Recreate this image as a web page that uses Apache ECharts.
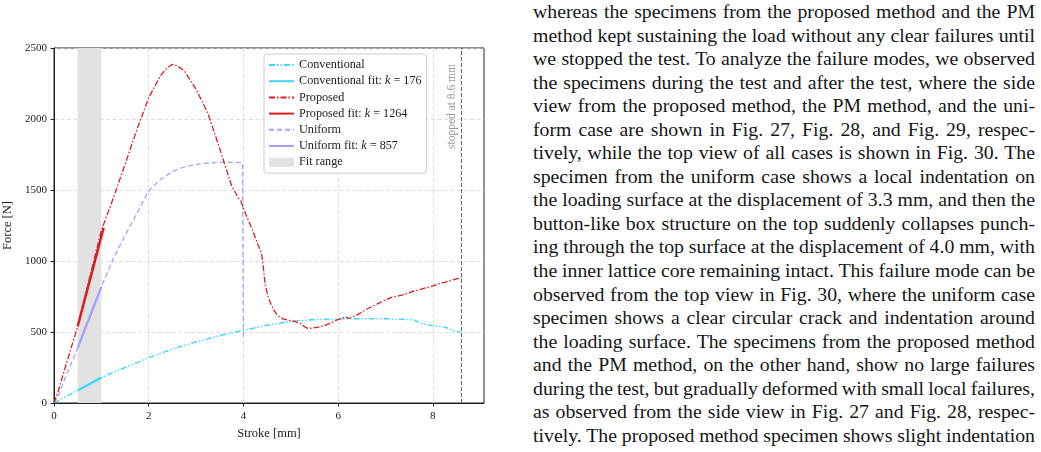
<!DOCTYPE html>
<html>
<head>
<meta charset="utf-8">
<script src="https://cdn.jsdelivr.net/npm/echarts@6/dist/echarts.min.js"></script>
<style>
  html, body { margin: 0; padding: 0; background: #fff; width: 1041px; height: 452px; overflow: hidden; }
  #chart { position: absolute; left: 0; top: 0; width: 520px; height: 452px; }
  #text { position: absolute; left: 533px; top: 0px; width: 502px;
          font-family: 'Liberation Serif', 'Times New Roman', serif; font-size: 19.8px;
          line-height: 23.55px; color: #161616; }
  #text div { white-space: nowrap; }
</style>
</head>
<body>
<div id="chart"></div>
<div id="text"></div>
<script>
// ---- data ----
const convX = [0, 0.1, 0.25, 0.5, 0.75, 1.0, 1.25, 1.5, 1.75, 2.0, 2.5, 3.0, 3.5, 4.0, 4.5, 5.0, 5.5, 6.0, 6.5, 7.0, 7.3, 7.6, 7.75, 7.85, 8.0, 8.2, 8.3, 8.45, 8.6];
const convY = [0, 18, 45, 88, 132, 178, 215, 250, 285, 320, 380, 430, 475, 512, 548, 575, 588, 592, 594, 593, 590, 586, 560, 552, 545, 538, 530, 508, 497];

const propX = [0, 0.1, 0.25, 0.4, 0.5, 0.75, 1.0, 1.25, 1.5, 1.75, 2.0, 2.25, 2.4, 2.5, 2.6, 2.75, 3.0, 3.25, 3.5, 3.75, 3.9, 3.95, 4.0, 4.1, 4.2, 4.3, 4.38, 4.41, 4.46, 4.52, 4.57, 4.65, 4.71, 4.82, 4.92, 5.09, 5.2, 5.3, 5.36, 5.45, 5.55, 5.65, 5.77, 5.9, 5.98, 6.1, 6.15, 6.22, 6.3, 6.4, 6.5, 6.61, 6.75, 6.89, 7.0, 7.14, 7.25, 7.39, 7.5, 7.6, 7.72, 7.84, 7.95, 8.02, 8.16, 8.25, 8.37, 8.48, 8.6];
const propY = [0, 95, 265, 430, 540, 880, 1215, 1440, 1680, 1925, 2150, 2305, 2365, 2385, 2375, 2340, 2210, 2040, 1790, 1530, 1440, 1420, 1370, 1290, 1210, 1120, 1060, 990, 830, 750, 705, 650, 620, 595, 585, 574, 560, 535, 525, 528, 532, 540, 552, 572, 586, 600, 607, 595, 605, 621, 640, 662, 685, 708, 725, 746, 752, 763, 775, 790, 798, 810, 818, 826, 845, 850, 862, 872, 882];

const unifX = [0, 0.1, 0.25, 0.5, 0.75, 1.0, 1.25, 1.5, 1.75, 2.0, 2.25, 2.5, 2.75, 3.0, 3.25, 3.5, 3.75, 3.98, 4.0];
const unifY = [0, 60, 190, 385, 600, 820, 1015, 1180, 1335, 1495, 1575, 1630, 1662, 1680, 1690, 1695, 1695, 1693, 465];

const convFitX = [0.5, 1.0], convFitY = [88, 180];
const propFitX = [0.5, 1.05], propFitY = [540, 1235];
const unifFitX = [0.5, 1.0], unifFitY = [388, 818];

const fitRange = [0.5, 1.0];
const stopX = 8.6;

const seriesNames = ['Conventional', 'Conventional fit: k = 176', 'Proposed', 'Proposed fit: k = 1264', 'Uniform', 'Uniform fit: k = 857', 'Fit range'];
const xTicks = [0, 2, 4, 6, 8];

const bodyLines = [
  'whereas the specimens from the proposed method and the PM',
  'method kept sustaining the load without any clear failures until',
  'we stopped the test. To analyze the failure modes, we observed',
  'the specimens during the test and after the test, where the side',
  'view from the proposed method, the PM method, and the uni-',
  'form case are shown in Fig. 27, Fig. 28, and Fig. 29, respec-',
  'tively, while the top view of all cases is shown in Fig. 30. The',
  'specimen from the uniform case shows a local indentation on',
  'the loading surface at the displacement of 3.3 mm, and then the',
  'button-like box structure on the top suddenly collapses punch-',
  'ing through the top surface at the displacement of 4.0 mm, with',
  'the inner lattice core remaining intact. This failure mode can be',
  'observed from the top view in Fig. 30, where the uniform case',
  'specimen shows a clear circular crack and indentation around',
  'the loading surface. The specimens from the proposed method',
  'and the PM method, on the other hand, show no large failures',
  'during the test, but gradually deformed with small local failures,',
  'as observed from the side view in Fig. 27 and Fig. 28, respec-',
  'tively. The proposed method specimen shows slight indentation'
];

// ---- body text (justified) ----
const textBox = document.getElementById('text');
const TARGET_W = 502;
bodyLines.forEach(function (line) {
  const d = document.createElement('div');
  const s = document.createElement('span');
  s.textContent = line;
  d.appendChild(s);
  textBox.appendChild(d);
  const w = s.getBoundingClientRect().width;
  const n = (line.match(/ /g) || []).length;
  if (n > 0) s.style.wordSpacing = ((TARGET_W - w) / n) + 'px';
});

// ---- chart ----
const zip = (xs, ys) => xs.map((x, i) => [x, ys[i]]);
const FONT = 'Liberation Serif, Times New Roman, serif';
const C_CONV = '#3fd6ff', C_PROP = '#d81e1e', C_UNIF = '#a3a3ff', C_FIT = '#e2e2e2';
const lineLegend = name => ({ name: name, itemStyle: { opacity: 0 } });

const chart = echarts.init(document.getElementById('chart'), null, { renderer: 'canvas' });
chart.setOption({
  animation: false,
  textStyle: { fontFamily: FONT },
  grid: { left: 54, top: 48, width: 430, height: 355, show: true, borderColor: '#222', borderWidth: 1,
          backgroundColor: 'transparent', containLabel: false, outerBoundsMode: 'none' },
  xAxis: {
    type: 'value', min: 0, max: 9.08, interval: 2,
    name: 'Stroke [mm]', nameLocation: 'middle', nameGap: 20,
    nameTextStyle: { fontFamily: FONT, fontSize: 12.5, color: '#222' },
    axisLine: { show: true, lineStyle: { color: '#222', width: 1 } },
    axisTick: { show: true, inside: false, length: 3.5, lineStyle: { color: '#222' }, customValues: xTicks },
    axisLabel: { margin: 8, fontFamily: FONT, fontSize: 11, color: '#222', customValues: xTicks,
                 formatter: v => String(v) },
    splitLine: { show: true, lineStyle: { color: '#d4d4d4', type: [4, 2.5], width: 0.8 } }
  },
  yAxis: {
    type: 'value', min: 0, max: 2500, interval: 500,
    name: 'Force [N]', nameLocation: 'middle', nameGap: 35,
    nameTextStyle: { fontFamily: FONT, fontSize: 12.5, color: '#222' },
    axisLine: { show: true, lineStyle: { color: '#222', width: 1 } },
    axisTick: { show: true, inside: false, length: 3.5, lineStyle: { color: '#222' } },
    axisLabel: { margin: 7, fontFamily: FONT, fontSize: 11, color: '#222', formatter: v => String(v) },
    splitLine: { show: true, lineStyle: { color: '#d4d4d4', type: [4, 2.5], width: 0.8 } }
  },
  legend: {
    orient: 'vertical', left: 264, top: 54,
    padding: [4, 5, 4, 4], itemGap: 2.2, itemWidth: 25, itemHeight: 9,
    backgroundColor: 'rgba(255,255,255,0.85)', borderColor: '#cccccc', borderWidth: 1, borderRadius: 3,
    textStyle: { fontFamily: FONT, fontSize: 12.2, color: '#222', lineHeight: 14,
      rich: { i: { fontFamily: FONT, fontSize: 12.2, fontStyle: 'italic', color: '#222' } } },
    formatter: function (name) { return name.replace(/k =/, '{i|k} ='); },
    data: [
      lineLegend(seriesNames[0]), lineLegend(seriesNames[1]), lineLegend(seriesNames[2]),
      lineLegend(seriesNames[3]), lineLegend(seriesNames[4]), lineLegend(seriesNames[5]),
      { name: seriesNames[6], icon: 'rect', itemStyle: { color: C_FIT, opacity: 1 } }
    ]
  },
  series: [
    { name: seriesNames[0], type: 'line', data: zip(convX, convY), showSymbol: false, symbol: 'none', z: 3,
      color: C_CONV, lineStyle: { color: C_CONV, width: 1.4, type: [6, 2, 1.5, 2, 1.5, 2] } },
    { name: seriesNames[1], type: 'line', data: zip(convFitX, convFitY), showSymbol: false, symbol: 'none', z: 6,
      color: C_CONV, lineStyle: { color: C_CONV, width: 2.4 } },
    { name: seriesNames[2], type: 'line', data: zip(propX, propY), showSymbol: false, symbol: 'none', z: 4,
      color: C_PROP, lineStyle: { color: C_PROP, width: 1.3, type: [6, 2, 1.5, 2] },
      markLine: { silent: true, symbol: ['none', 'none'], animation: false,
        lineStyle: { color: '#555', width: 0.9, type: [4, 2] },
        label: { show: true, position: 'insideEndTop', formatter: 'stopped at 8.6 mm', fontFamily: FONT, fontSize: 11.5, color: '#999', distance: [16, 3] },
        data: [{ xAxis: stopX }] } },
    { name: seriesNames[3], type: 'line', data: zip(propFitX, propFitY), showSymbol: false, symbol: 'none', z: 7,
      color: C_PROP, lineStyle: { color: C_PROP, width: 2.4 } },
    { name: seriesNames[4], type: 'line', data: zip(unifX, unifY), showSymbol: false, symbol: 'none', z: 3,
      color: C_UNIF, lineStyle: { color: C_UNIF, width: 1.3, type: [5, 3] } },
    { name: seriesNames[5], type: 'line', data: zip(unifFitX, unifFitY), showSymbol: false, symbol: 'none', z: 6,
      color: C_UNIF, lineStyle: { color: C_UNIF, width: 2.4 } },
    { name: seriesNames[6], type: 'line', data: [], showSymbol: false, symbol: 'none', z: 0,
      color: C_FIT, itemStyle: { color: C_FIT },
      markArea: { silent: true, itemStyle: { color: C_FIT, opacity: 1 },
        data: [[{ xAxis: fitRange[0] }, { xAxis: fitRange[1] }]] } }
  ]
});
</script>
</body>
</html>
